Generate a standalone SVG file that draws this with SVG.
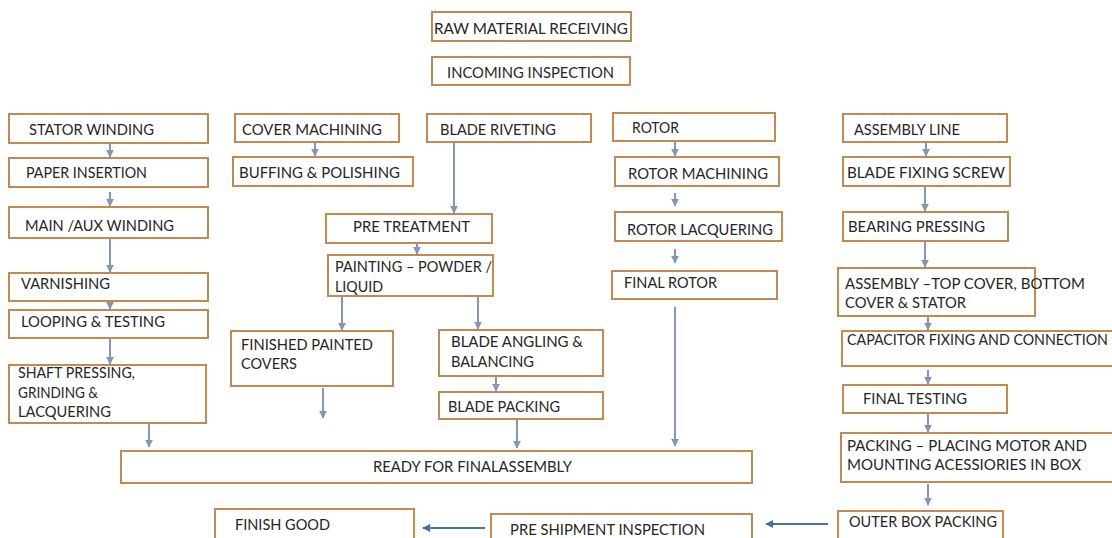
<svg xmlns="http://www.w3.org/2000/svg" width="1112" height="538" viewBox="0 0 1112 538">
<style>
.b{fill:#fff;stroke:#c08a52;stroke-width:2}
.t{font-family:Lato,"Open Sans","Liberation Sans",sans-serif;font-size:14.5px;fill:#262626}
.c{stroke:#8197b5;stroke-width:2;fill:none}
.cb{stroke:#4a6ea6;stroke-width:2;fill:none}
</style>
<defs>
<marker id="a" viewBox="0 0 10 10" refX="9" refY="5" markerWidth="4" markerHeight="4" orient="auto" markerUnits="strokeWidth"><path d="M0,0 L10,5 L0,10 z" fill="#8197b5"/></marker>
<marker id="ab" viewBox="0 0 10 10" refX="9" refY="5" markerWidth="4" markerHeight="4" orient="auto" markerUnits="strokeWidth"><path d="M0,0 L10,5 L0,10 z" fill="#4a6ea6"/></marker>
</defs>
<rect width="1112" height="538" fill="#fff"/>
<g id="connectors">
<line class="c" x1="110" y1="144" x2="110" y2="157" marker-end="url(#a)"/>
<line class="c" x1="110" y1="192" x2="110" y2="206" marker-end="url(#a)"/>
<line class="c" x1="110" y1="239" x2="110" y2="272" marker-end="url(#a)"/>
<line class="c" x1="110" y1="301" x2="110" y2="309" marker-end="url(#a)"/>
<line class="c" x1="110" y1="339" x2="110" y2="364" marker-end="url(#a)"/>
<line class="c" x1="149" y1="424" x2="149" y2="447" marker-end="url(#a)"/>
<line class="c" x1="315" y1="143" x2="315" y2="156" marker-end="url(#a)"/>
<line class="c" x1="454" y1="143" x2="454" y2="213" marker-end="url(#a)"/>
<line class="c" x1="417" y1="244" x2="417" y2="254" marker-end="url(#a)"/>
<line class="c" x1="342" y1="297" x2="342" y2="330" marker-end="url(#a)"/>
<line class="c" x1="323" y1="388" x2="323" y2="418" marker-end="url(#a)"/>
<line class="c" x1="478" y1="297" x2="478" y2="329" marker-end="url(#a)"/>
<line class="c" x1="496" y1="377" x2="496" y2="391" marker-end="url(#a)"/>
<line class="c" x1="517" y1="420" x2="517" y2="448" marker-end="url(#a)"/>
<line class="c" x1="675" y1="142" x2="675" y2="156" marker-end="url(#a)"/>
<line class="c" x1="675" y1="193" x2="675" y2="206" marker-end="url(#a)"/>
<line class="c" x1="675" y1="249" x2="675" y2="263" marker-end="url(#a)"/>
<line class="c" x1="675" y1="307" x2="675" y2="446" marker-end="url(#a)"/>
<line class="c" x1="926" y1="143" x2="926" y2="156" marker-end="url(#a)"/>
<line class="c" x1="925" y1="187" x2="925" y2="211" marker-end="url(#a)"/>
<line class="c" x1="925" y1="242" x2="925" y2="267" marker-end="url(#a)"/>
<line class="c" x1="928" y1="317" x2="928" y2="330" marker-end="url(#a)"/>
<line class="c" x1="928" y1="370" x2="928" y2="384" marker-end="url(#a)"/>
<line class="c" x1="928" y1="414" x2="928" y2="432" marker-end="url(#a)"/>
<line class="c" x1="928" y1="484" x2="928" y2="505" marker-end="url(#a)"/>
<line class="cb" x1="828" y1="524" x2="766" y2="524" marker-end="url(#ab)"/>
<line class="cb" x1="485" y1="528" x2="423" y2="528" marker-end="url(#ab)"/>
</g>
<g id="n-raw"><rect class="b" x="432" y="12" width="199" height="29"/><text class="t" x="434" y="34" textLength="194" lengthAdjust="spacingAndGlyphs">RAW MATERIAL RECEIVING</text></g>
<g id="n-incoming"><rect class="b" x="432" y="57" width="198" height="28"/><text class="t" x="447" y="78" textLength="167" lengthAdjust="spacingAndGlyphs">INCOMING INSPECTION</text></g>
<g id="n-stator"><rect class="b" x="9" y="114" width="199" height="29"/><text class="t" x="29" y="135" textLength="125" lengthAdjust="spacingAndGlyphs">STATOR WINDING</text></g>
<g id="n-paper"><rect class="b" x="9" y="158" width="199" height="29"/><text class="t" x="26" y="178" textLength="121" lengthAdjust="spacingAndGlyphs">PAPER INSERTION</text></g>
<g id="n-main"><rect class="b" x="9" y="207" width="199" height="31"/><text class="t" x="25" y="231" textLength="149" lengthAdjust="spacingAndGlyphs">MAIN /AUX WINDING</text></g>
<g id="n-varnish"><rect class="b" x="9" y="273" width="199" height="28"/><text class="t" x="21" y="289" textLength="89" lengthAdjust="spacingAndGlyphs">VARNISHING</text></g>
<g id="n-looping"><rect class="b" x="9" y="310" width="199" height="28"/><text class="t" x="21" y="327" textLength="144" lengthAdjust="spacingAndGlyphs">LOOPING &amp; TESTING</text></g>
<g id="n-shaft"><rect class="b" x="9" y="365" width="197" height="58"/><text class="t" x="18" y="378" textLength="117" lengthAdjust="spacingAndGlyphs">SHAFT PRESSING,</text><text class="t" x="18" y="398" textLength="80" lengthAdjust="spacingAndGlyphs">GRINDING &amp;</text><text class="t" x="18" y="417" textLength="93" lengthAdjust="spacingAndGlyphs">LACQUERING</text></g>
<g id="n-cover"><rect class="b" x="235" y="114" width="164" height="28"/><text class="t" x="242" y="135" textLength="140" lengthAdjust="spacingAndGlyphs">COVER MACHINING</text></g>
<g id="n-buffing"><rect class="b" x="233" y="157" width="180" height="29"/><text class="t" x="239" y="178" textLength="161" lengthAdjust="spacingAndGlyphs">BUFFING &amp; POLISHING</text></g>
<g id="n-rivet"><rect class="b" x="427" y="114" width="164" height="28"/><text class="t" x="440" y="135" textLength="116" lengthAdjust="spacingAndGlyphs">BLADE RIVETING</text></g>
<g id="n-pretreat"><rect class="b" x="326" y="214" width="166" height="29"/><text class="t" x="353" y="232" textLength="117" lengthAdjust="spacingAndGlyphs">PRE TREATMENT</text></g>
<g id="n-painting"><rect class="b" x="328" y="255" width="165" height="41"/><text class="t" x="335" y="272" textLength="157" lengthAdjust="spacingAndGlyphs">PAINTING – POWDER /</text><text class="t" x="335" y="292" textLength="48" lengthAdjust="spacingAndGlyphs">LIQUID</text></g>
<g id="n-finished"><rect class="b" x="231" y="331" width="162" height="55"/><text class="t" x="241" y="350" textLength="132" lengthAdjust="spacingAndGlyphs">FINISHED PAINTED</text><text class="t" x="241" y="369" textLength="56" lengthAdjust="spacingAndGlyphs">COVERS</text></g>
<g id="n-angling"><rect class="b" x="439" y="330" width="164" height="46"/><text class="t" x="451" y="347" textLength="132" lengthAdjust="spacingAndGlyphs">BLADE ANGLING &amp;</text><text class="t" x="451" y="367" textLength="83" lengthAdjust="spacingAndGlyphs">BALANCING</text></g>
<g id="n-bpack"><rect class="b" x="439" y="392" width="164" height="27"/><text class="t" x="448" y="412" textLength="112" lengthAdjust="spacingAndGlyphs">BLADE PACKING</text></g>
<g id="n-rotor"><rect class="b" x="613" y="113" width="162" height="28"/><text class="t" x="632" y="133" textLength="47" lengthAdjust="spacingAndGlyphs">ROTOR</text></g>
<g id="n-rmach"><rect class="b" x="615" y="157" width="164" height="29"/><text class="t" x="628" y="179" textLength="140" lengthAdjust="spacingAndGlyphs">ROTOR MACHINING</text></g>
<g id="n-rlacq"><rect class="b" x="615" y="212" width="167" height="29"/><text class="t" x="627" y="235" textLength="146" lengthAdjust="spacingAndGlyphs">ROTOR LACQUERING</text></g>
<g id="n-frotor"><rect class="b" x="612" y="271" width="165" height="28"/><text class="t" x="624" y="288" textLength="93" lengthAdjust="spacingAndGlyphs">FINAL ROTOR</text></g>
<g id="n-asmline"><rect class="b" x="843" y="114" width="164" height="28"/><text class="t" x="854" y="135" textLength="106" lengthAdjust="spacingAndGlyphs">ASSEMBLY LINE</text></g>
<g id="n-bfix"><rect class="b" x="843" y="157" width="167" height="29"/><text class="t" x="847" y="178" textLength="158" lengthAdjust="spacingAndGlyphs">BLADE FIXING SCREW</text></g>
<g id="n-bearing"><rect class="b" x="843" y="212" width="165" height="29"/><text class="t" x="848" y="232" textLength="137" lengthAdjust="spacingAndGlyphs">BEARING PRESSING</text></g>
<g id="n-asmtop"><rect class="b" x="838" y="268" width="197" height="48"/><text class="t" x="845" y="289" textLength="240" lengthAdjust="spacingAndGlyphs">ASSEMBLY –TOP COVER, BOTTOM</text><text class="t" x="845" y="308" textLength="121" lengthAdjust="spacingAndGlyphs">COVER &amp; STATOR</text></g>
<g id="n-cap"><rect class="b" x="842" y="331" width="275" height="35"/><text class="t" x="847" y="345" textLength="261" lengthAdjust="spacingAndGlyphs">CAPACITOR FIXING AND CONNECTION</text></g>
<g id="n-ftest"><rect class="b" x="843" y="385" width="164" height="28"/><text class="t" x="863" y="404" textLength="104" lengthAdjust="spacingAndGlyphs">FINAL TESTING</text></g>
<g id="n-packing"><rect class="b" x="841" y="433" width="275" height="49"/><text class="t" x="847" y="451" textLength="240" lengthAdjust="spacingAndGlyphs">PACKING – PLACING MOTOR AND</text><text class="t" x="847" y="470" textLength="234" lengthAdjust="spacingAndGlyphs">MOUNTING ACESSIORIES IN BOX</text></g>
<g id="n-outer"><rect class="b" x="838" y="511" width="165" height="30"/><text class="t" x="849" y="527" textLength="148" lengthAdjust="spacingAndGlyphs">OUTER BOX PACKING</text></g>
<g id="n-ready"><rect class="b" x="121" y="451" width="631" height="32"/><text class="t" x="373" y="472" textLength="199" lengthAdjust="spacingAndGlyphs">READY FOR FINALASSEMBLY</text></g>
<g id="n-finish"><rect class="b" x="215" y="509" width="199" height="32"/><text class="t" x="235" y="530" textLength="95" lengthAdjust="spacingAndGlyphs">FINISH GOOD</text></g>
<g id="n-preship"><rect class="b" x="491" y="514" width="261" height="30"/><text class="t" x="510" y="535" textLength="195" lengthAdjust="spacingAndGlyphs">PRE SHIPMENT INSPECTION</text></g>
</svg>
